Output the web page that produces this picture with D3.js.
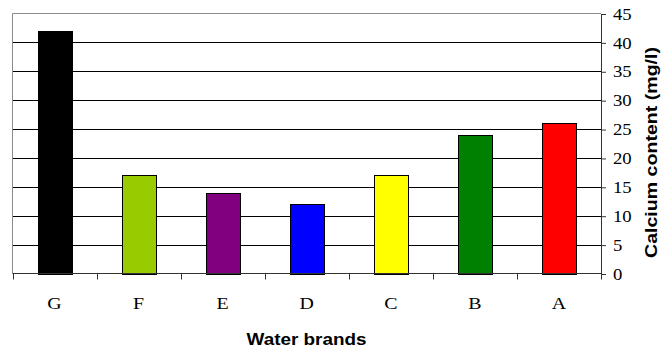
<!DOCTYPE html>
<html>
<head>
<meta charset="utf-8">
<script src="https://cdn.jsdelivr.net/npm/d3@7"></script>
<style>
  html, body { margin: 0; padding: 0; background: #fff; }
  svg { display: block; }
</style>
</head>
<body>
<svg id="chart" width="662" height="349"></svg>
<script>
// Water brands and their calcium content (mg/l)
const brands = ["G", "F", "E", "D", "C", "B", "A"];
const calcium = [42, 17, 14, 12, 17, 24, 26];
const barColors = ["#000000", "#99CC00", "#800080", "#0000FF", "#FFFF00", "#008000", "#FF0000"];
const yTicks = [0, 5, 10, 15, 20, 25, 30, 35, 40, 45];
const xTitle = "Water brands";
const yTitle = "Calcium content (mg/l)";

const serif = "'Liberation Serif', 'Times New Roman', serif";
const sans = "'Liberation Sans', Arial, sans-serif";
const widen = 1.17;   // glyphs are drawn slightly wide

const svg = d3.select("#chart");
const plot = { left: 12.5, right: 601, top: 13.5, bottom: 273.5 };

const x = d3.scaleBand().domain(brands).range([plot.left, plot.right]);
const y = d3.scaleLinear().domain([0, 45]).range([plot.bottom, plot.top]);

// gridlines
svg.append("g")
  .selectAll("line")
  .data(yTicks.filter(t => t > 0 && t < 45))
  .join("line")
  .attr("x1", plot.left).attr("x2", plot.right)
  .attr("y1", d => Math.round(y(d)) + 0.5).attr("y2", d => Math.round(y(d)) + 0.5)
  .attr("stroke", "#000").attr("stroke-width", 1);

// plot area border (top and left)
svg.append("path")
  .attr("d", `M${plot.left},${plot.bottom}V${plot.top}H${plot.right}`)
  .attr("fill", "none").attr("stroke", "#8c8c8c").attr("stroke-width", 1);

// bars
const barW = x.bandwidth() * 0.4;
svg.append("g")
  .selectAll("rect")
  .data(brands.map((b, i) => ({ b, v: calcium[i], c: barColors[i] })))
  .join("rect")
  .attr("x", d => Math.round(x(d.b) + (x.bandwidth() - barW) / 2) + 0.5)
  .attr("y", d => Math.round(y(d.v)) + 0.5)
  .attr("width", Math.round(barW))
  .attr("height", d => Math.round(y(0)) - Math.round(y(d.v)))
  .attr("fill", d => d.c)
  .attr("stroke", "#000").attr("stroke-width", 1);

// value axis on the right
const yAxis = d3.axisRight(y).tickValues(yTicks).tickSize(5).tickPadding(7);
const gy = svg.append("g")
  .attr("transform", `translate(${plot.right},0.5)`)
  .call(yAxis);
gy.select(".domain").attr("stroke", "#333");
gy.selectAll(".tick line").attr("stroke", "#333");
gy.selectAll("text")
  .attr("font-family", serif)
  .attr("font-size", 16).attr("fill", "#000")
  .attr("x", 12 / widen)
  .attr("transform", `scale(${widen},1)`);

// category axis
const xAxis = d3.axisBottom(x).tickSize(0).tickPadding(23);
const gx = svg.append("g")
  .attr("transform", `translate(0,${plot.bottom})`)
  .call(xAxis);
gx.select(".domain").remove();
gx.selectAll("text")
  .attr("font-family", serif)
  .attr("font-size", 17).attr("fill", "#000")
  .attr("transform", `scale(${widen},1)`);

// baseline and band-boundary ticks
svg.append("line")
  .attr("x1", plot.left).attr("x2", plot.right)
  .attr("y1", plot.bottom).attr("y2", plot.bottom)
  .attr("stroke", "#333").attr("stroke-width", 1);
const bounds = brands.map(b => x(b)).concat([x(brands[brands.length - 1]) + x.bandwidth()]);
svg.append("g")
  .selectAll("line")
  .data(bounds)
  .join("line")
  .attr("x1", d => Math.round(d) + 0.5).attr("x2", d => Math.round(d) + 0.5)
  .attr("y1", plot.bottom).attr("y2", plot.bottom + 6)
  .attr("stroke", "#333");

// axis titles
svg.append("text")
  .attr("x", 306.5)
  .attr("y", 345)
  .attr("text-anchor", "middle")
  .attr("font-family", sans)
  .attr("font-weight", "bold").attr("font-size", 16.5)
  .attr("textLength", 120).attr("lengthAdjust", "spacingAndGlyphs")
  .text(xTitle);

svg.append("text")
  .attr("transform", `translate(657,152.5) rotate(-90)`)
  .attr("text-anchor", "middle")
  .attr("font-family", sans)
  .attr("font-weight", "bold").attr("font-size", 16.5)
  .attr("textLength", 211).attr("lengthAdjust", "spacingAndGlyphs")
  .text(yTitle);
</script>
</body>
</html>
